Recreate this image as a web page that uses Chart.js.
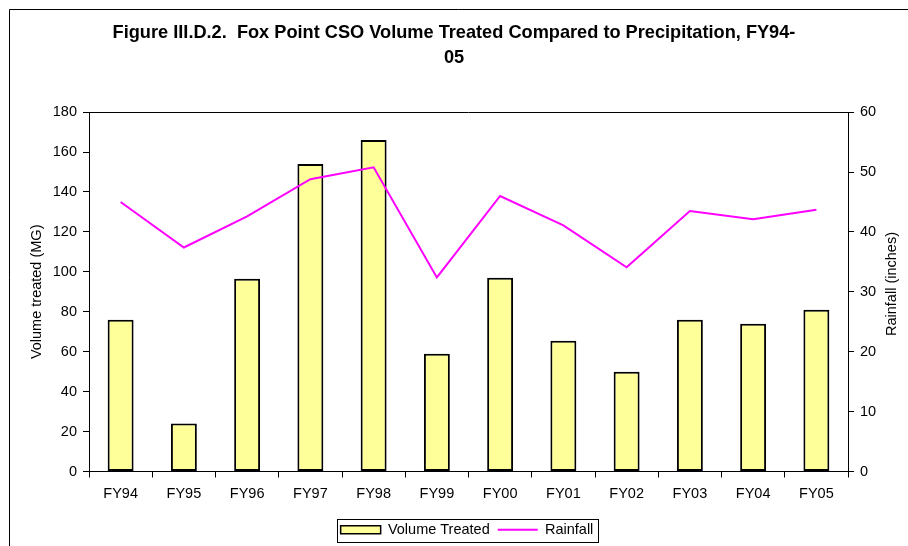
<!DOCTYPE html>
<html lang="en">
<head>
  <meta charset="UTF-8">
  <title>Fox Point CSO Volume Treated Compared to Precipitation</title>
  <script src="https://cdn.jsdelivr.net/npm/chart.js"></script>
  <style>
    body {
      margin: 0;
      padding: 0;
      background: #fff;
    }
    #wrap {
      width: 908px;
      height: 546px;
      position: relative;
    }
  </style>
</head>
<body>
  <div id="wrap"><canvas id="chart"></canvas></div>

  <script>
    // data
    const categories = ["FY94", "FY95", "FY96", "FY97", "FY98", "FY99", "FY00", "FY01", "FY02", "FY03", "FY04", "FY05"];
    const volumeTreated = [76, 24, 96.5, 154, 166, 59, 97, 65.5, 50, 76, 74, 81]; // MG
    const rainfall = [45.0, 37.4, 42.6, 48.8, 50.8, 32.4, 46.0, 41.1, 34.1, 43.5, 42.1, 43.7]; // inches
    const volumeAxis = [0, 180, 20]; // min, max, step
    const rainAxis = [0, 60, 10];

    const FONT = "'Liberation Sans', Arial, sans-serif";
    const tickFont = { family: FONT, size: 14.5 };

    // outer frame, top edge of plot box, legend box, right axis title
    const framePlugin = {
      id: "frame",
      afterLayout(chart) {
        // legend sits a little right of centre in the original
        const l = chart.legend;
        l.left += 13;
        l.right += 13;
        l.top += 3;
        l.bottom += 3;
      },
      beforeDraw(chart) {
        const ctx = chart.ctx;
        ctx.save();
        ctx.fillStyle = "#fff";
        ctx.fillRect(0, 0, chart.width, chart.height);
        ctx.strokeStyle = "#000";
        ctx.lineWidth = 1;
        ctx.beginPath();
        ctx.moveTo(9.5, chart.height);
        ctx.lineTo(9.5, 9.5);
        ctx.lineTo(chart.width, 9.5);
        ctx.stroke();
        ctx.restore();
      },
      afterDraw(chart) {
        const a = chart.chartArea;
        const ctx = chart.ctx;
        ctx.save();
        ctx.strokeStyle = "#000";
        ctx.lineWidth = 1;
        ctx.beginPath();
        ctx.moveTo(a.left, Math.round(a.top) + 0.5);
        ctx.lineTo(a.right, Math.round(a.top) + 0.5);
        ctx.stroke();

        const boxes = chart.legend.legendHitBoxes;
        if (boxes && boxes.length) {
          let x0 = Infinity, x1 = -Infinity, y0 = Infinity, y1 = -Infinity;
          boxes.forEach(b => {
            x0 = Math.min(x0, b.left);
            x1 = Math.max(x1, b.left + b.width);
            y0 = Math.min(y0, b.top);
            y1 = Math.max(y1, b.top + b.height);
          });
          ctx.strokeRect(Math.round(x0 - 4) + 0.5, Math.round(y0 - 4) + 0.5,
                         Math.round(x1 - x0 + 8), Math.round(y1 - y0 + 8));
        }

        // right axis title reads bottom-to-top like the left one
        ctx.fillStyle = "#000";
        ctx.font = "14.5px " + FONT;
        ctx.textAlign = "center";
        ctx.textBaseline = "middle";
        ctx.translate(892, 284);
        ctx.rotate(-Math.PI / 2);
        ctx.fillText("Rainfall (inches)", 0, 0);
        ctx.restore();
      }
    };

    new Chart(document.getElementById("chart"), {
      data: {
        labels: categories,
        datasets: [
          {
            type: "line",
            label: "Rainfall",
            data: rainfall,
            yAxisID: "y1",
            borderColor: "#FF00FF",
            borderWidth: 2,
            pointRadius: 0,
            tension: 0,
            fill: false,
          },
          {
            type: "bar",
            label: "Volume Treated",
            data: volumeTreated,
            yAxisID: "y",
            backgroundColor: "#FFFF99",
            borderColor: "#000",
            borderWidth: 2,
            borderSkipped: false,
            categoryPercentage: 1,
            barPercentage: 0.41,
          },
        ],
      },
      options: {
        responsive: true,
        maintainAspectRatio: false,
        animation: false,
        layout: { padding: { left: 0, right: 0, top: 0, bottom: 2 } },
        plugins: {
          title: {
            display: true,
            text: ["Figure III.D.2.  Fox Point CSO Volume Treated Compared to Precipitation, FY94-", "05"],
            color: "#000",
            font: { family: FONT, size: 18.2, weight: "bold", lineHeight: 1.35 },
            padding: { top: 21, bottom: 42 },
          },
          legend: {
            position: "bottom",
            labels: {
              color: "#000",
              font: tickFont,
              usePointStyle: true,
              pointStyleWidth: 40,
              boxHeight: 8,
              padding: 8,
              generateLabels: () => [
                { text: "Volume Treated", fillStyle: "#FFFF99", strokeStyle: "#000", lineWidth: 1.5,
                  pointStyle: "rect", datasetIndex: 1, hidden: false, fontColor: "#000" },
                { text: "Rainfall", fillStyle: "#FF00FF", strokeStyle: "#FF00FF", lineWidth: 2,
                  pointStyle: "line", datasetIndex: 0, hidden: false, fontColor: "#000" },
              ],
            },
          },
          tooltip: { enabled: false },
        },
        scales: {
          x: {
            offset: true,
            grid: { offset: true, drawOnChartArea: false, tickLength: 6, color: "#000" },
            border: { color: "#000", width: 1 },
            ticks: { color: "#000", font: tickFont, padding: 8, maxRotation: 0 },
            afterFit(scale) { scale.height = 40; },
          },
          y: {
            position: "left",
            min: volumeAxis[0],
            max: volumeAxis[1],
            grid: { drawOnChartArea: false, tickLength: 6, color: "#000" },
            border: { color: "#000", width: 1 },
            ticks: { stepSize: volumeAxis[2], color: "#000", font: tickFont, padding: 6 },
            title: { display: true, text: "Volume treated (MG)", color: "#000", font: tickFont, padding: { top: 28 } },
            afterFit(scale) { scale.width = 89; },
          },
          y1: {
            position: "right",
            min: rainAxis[0],
            max: rainAxis[1],
            grid: { drawOnChartArea: false, tickLength: 6, color: "#000" },
            border: { color: "#000", width: 1 },
            ticks: { stepSize: rainAxis[2], color: "#000", font: tickFont, padding: 6 },
            afterFit(scale) { scale.width = 60; },
          },
        },
      },
      plugins: [framePlugin],
    });
  </script>
</body>
</html>
